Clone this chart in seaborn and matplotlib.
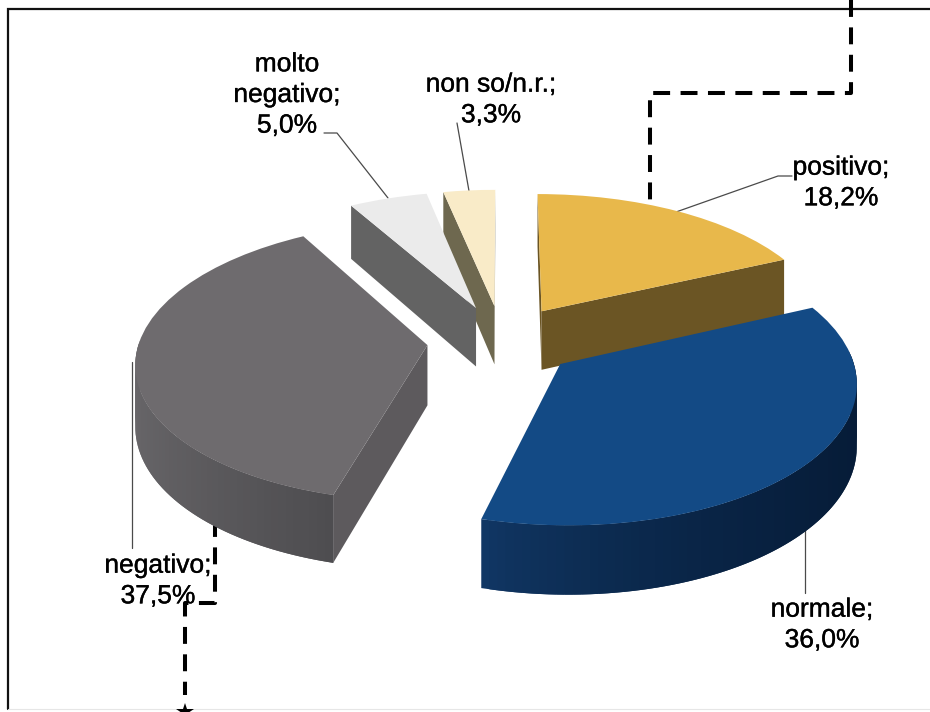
import numpy as np
import matplotlib
matplotlib.use("Agg")
import matplotlib.pyplot as plt
import matplotlib.patheffects as pe
from matplotlib.transforms import Transform
from matplotlib.colors import to_rgb
import seaborn as sns

# ---- data ----
categories = ["positivo", "normale", "negativo", "molto negativo", "non so/n.r."]
shares = [18.2, 36.0, 37.5, 5.0, 3.3]
share_labels = ["positivo;\n18,2%", "normale;\n36,0%", "negativo;\n37,5%", "molto\nnegativo;\n5,0%", "non so/n.r.;\n3,3%"]

# ---- styles ----
top_colors = ["#E8B84B", "#134A85", "#6E6B6E", "#EBEBEB", "#F9EBC8"]
rim_colors = [("#6B5524", "#6B5524"), ("#113866", "#061C38"), ("#686669", "#4E4D50"),
              ("#666666", "#666666"), ("#6E684F", "#6E684F")]
cut_colors = ["#6B5524", "#0A2345", "#5D5A5D", "#636363", "#6E684F"]
draw_order = [0, 4, 3, 2, 1]

CX, CY, RX, RY, PERSP, DEPTH = 502.0, 340.5, 288.0, 137.0, 0.115, 60.0


class Perspective(Transform):
    """Plane of the pie -> picture pixels, with a slight perspective."""
    input_dims = output_dims = 2

    def __init__(self, z=0.0):
        super().__init__()
        self.z = z

    def transform_non_affine(self, values):
        values = np.asarray(values, float)
        w = 1 + PERSP * values[:, 1]
        return np.column_stack([CX + RX * values[:, 0] / w,
                                CY - (RY * values[:, 1] - self.z) / w])


def project(x, y, z=0.0):
    return Perspective(z).transform_non_affine(np.column_stack([x, y]))


def mix(a, b, t):
    a, b = np.array(to_rgb(a)), np.array(to_rgb(b))
    return tuple(a + (b - a) * t)


sns.set_theme(style="white")
plt.rcParams["font.family"] = ["Liberation Sans", "DejaVu Sans"]

fig = plt.figure(figsize=(9.3, 7.12), dpi=100, facecolor="white")
ax = fig.add_axes([0, 0, 1, 1])

wedges, _ = ax.pie(shares, colors=top_colors, explode=[0.26] * len(shares), radius=1.0,
                   startangle=90, counterclock=False, frame=False,
                   wedgeprops={"linewidth": 0})
ax.set_aspect("auto")
ax.set_xlim(0, 930)
ax.set_ylim(712, 0)
ax.axis("off")


def face(pts, color, z):
    pts = np.array(pts)
    ax.fill(pts[:, 0], pts[:, 1], color=color, lw=0, zorder=z)


# frame and dashed connectors, behind the pie
ax.plot([8, 8, 930], [709, 9, 9], color="#111111", lw=1.6, zorder=1, solid_joinstyle="miter")
ax.plot([8, 930], [709, 709], color="#E6E6E6", lw=0.8, zorder=1)
dash = dict(color="black", lw=2.9, ls=(0, (4.2, 2.6)), dash_capstyle="butt", zorder=2)
ax.plot([851, 851, 650, 650], [0, 93, 93, 212], **dash)
ax.plot([215, 215, 185, 185], [520, 603, 603, 695], **dash)
ax.plot([185], [712], marker="*", color="black", ms=13, mew=0, zorder=2)

# leader lines
leaders = [([676, 778, 792], [212, 176, 176]), ([805, 805], [530, 593]),
           ([132, 132], [362, 548]), ([388, 337, 324], [198, 133, 133]),
           ([469, 457], [191, 123])]
for lx, ly in leaders:
    ax.plot(lx, ly, color="#4A4A4A", lw=0.9, zorder=2)

# walls and top of each slice
for rank, i in enumerate(draw_order):
    w = wedges[i]
    base = 10 + rank * 3
    (x0, y0) = w.center
    a_min, a_max = min(w.theta1, w.theta2), max(w.theta1, w.theta2)
    a = np.deg2rad(np.linspace(a_min, a_max, 90))
    ax_x, ax_y = x0 + np.cos(a), y0 + np.sin(a)
    top, bot = project(ax_x, ax_y), project(ax_x, ax_y, DEPTH)
    apex_top, apex_bot = project([x0], [y0])[0], project([x0], [y0], DEPTH)[0]
    # cut faces that look towards the viewer
    for end, normal in ((0, a_min - 90), (-1, a_max + 90)):
        if np.sin(np.deg2rad(normal)) < 0.02:
            face([apex_top, top[end], bot[end], apex_bot], cut_colors[i], base)
    # outer rim, only the part that looks towards the viewer, shaded left to right
    lo, hi = top[:, 0].min(), top[:, 0].max()
    for k in range(len(a) - 1):
        if np.sin(a[k]) > 0.05:
            continue
        k2 = min(k + 2, len(a) - 1)
        t = np.clip(((top[k, 0] + top[k + 1, 0]) / 2 - lo) / (hi - lo), 0, 1)
        face([top[k], top[k2], bot[k2], bot[k]], mix(*rim_colors[i], t ** 0.7), base + 1)
    w.set_transform(Perspective() + ax.transData)
    w.set_zorder(base + 2)

# data labels
label_pos = [(841, 183), (822, 625), (158, 581), (287, 95), (491, 100)]
for (lx, ly), text in zip(label_pos, share_labels):
    ax.text(lx, ly, text, ha="center", va="center", fontsize=19, color="black",
            linespacing=1.35, zorder=40,
            path_effects=[pe.withStroke(linewidth=0.25, foreground="black")])

fig.savefig("out.png", dpi=100)
